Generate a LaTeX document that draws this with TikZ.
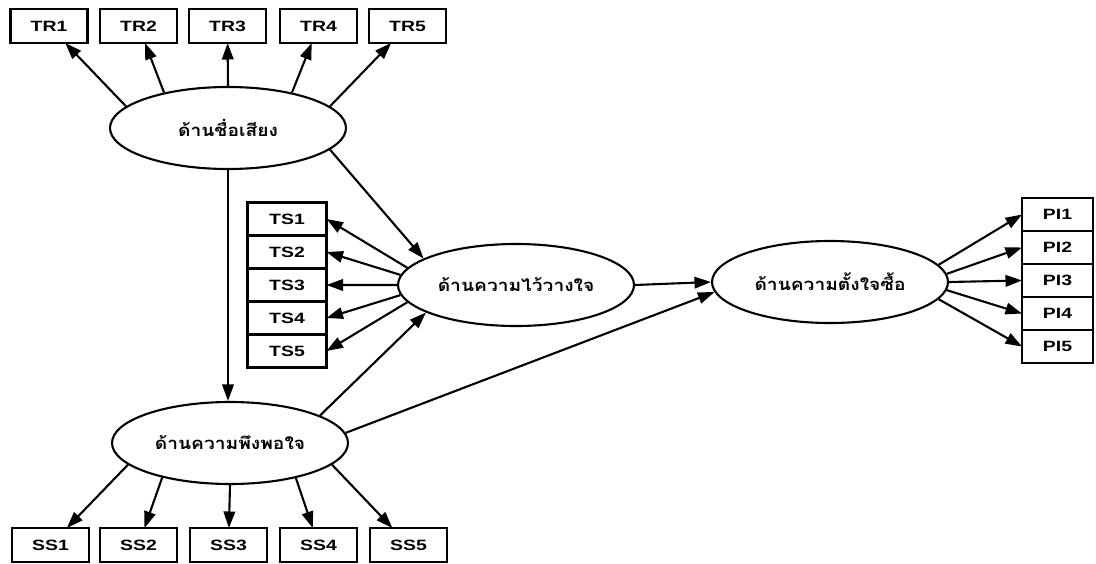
\documentclass[tikz,border=0pt]{standalone}
\usepackage{fontspec}
\setmainfont{Liberation Sans}
\newfontfamily\boxfont[FakeStretch=1.3]{Liberation Sans}
\newfontfamily\thaifont[Script=Thai,FakeStretch=1.15]{Loma}
\usetikzlibrary{arrows.meta, shapes.geometric, positioning}

\begin{document}
\begin{tikzpicture}[
		every node/.style={font=\boxfont\fontsize{8.5}{10}\selectfont\bfseries},
		item/.style={draw, line width=1.2pt, rectangle, minimum width=1.54cm, minimum height=0.68cm, inner sep=0pt, outer sep=0pt},
		factor/.style={draw, line width=1.2pt, ellipse, minimum width=4.72cm, minimum height=1.64cm, inner sep=0pt, font=\thaifont\fontsize{9.5}{11}\selectfont\bfseries},
		path/.style={-{Triangle[length=3.3mm, width=2.3mm]}, line width=1.2pt}
		]
		\useasboundingbox (0,0) rectangle (21.92,-11.26);
		
		% Latent factors
		\node[factor] (rep) at (4.56,-2.56) {ด้านชื่อเสียง};
		\node[factor] (trust) at (10.32,-5.70) {ด้านความไว้วางใจ};
		\node[factor] (purch) at (16.60,-5.64) {ด้านความตั้งใจซื้อ};
		\node[factor] (sat) at (4.60,-8.86) {ด้านความพึงพอใจ};
		
		% Top row: reputation items
		\node[item] (tr1) at (0.98,-0.52) {TR1};
		\node[item] (tr2) at (2.77,-0.52) {TR2};
		\node[item] (tr3) at (4.55,-0.52) {TR3};
		\node[item] (tr4) at (6.37,-0.52) {TR4};
		\node[item] (tr5) at (8.15,-0.52) {TR5};
		
		% Trust items (stacked)
		\node[item, minimum width=1.58cm, minimum height=0.66cm] (ts1) at (5.74,-4.38) {TS1};
		\node[item, minimum width=1.58cm, minimum height=0.66cm, below=0pt of ts1] (ts2) {TS2};
		\node[item, minimum width=1.58cm, minimum height=0.66cm, below=0pt of ts2] (ts3) {TS3};
		\node[item, minimum width=1.58cm, minimum height=0.66cm, below=0pt of ts3] (ts4) {TS4};
		\node[item, minimum width=1.58cm, minimum height=0.66cm, below=0pt of ts4] (ts5) {TS5};
		
		% Purchase intention items (stacked)
		\node[item, minimum width=1.42cm, minimum height=0.66cm] (pi1) at (21.15,-4.29) {PI1};
		\node[item, minimum width=1.42cm, minimum height=0.66cm, below=0pt of pi1] (pi2) {PI2};
		\node[item, minimum width=1.42cm, minimum height=0.66cm, below=0pt of pi2] (pi3) {PI3};
		\node[item, minimum width=1.42cm, minimum height=0.66cm, below=0pt of pi3] (pi4) {PI4};
		\node[item, minimum width=1.42cm, minimum height=0.66cm, below=0pt of pi4] (pi5) {PI5};
		
		% Bottom row: satisfaction items
		\node[item] (ss1) at (1.01,-10.90) {SS1};
		\node[item] (ss2) at (2.77,-10.90) {SS2};
		\node[item] (ss3) at (4.57,-10.90) {SS3};
		\node[item] (ss4) at (6.37,-10.90) {SS4};
		\node[item] (ss5) at (8.17,-10.90) {SS5};
		
		% Loadings
		\draw[path] (rep.168) -- (tr1);
		\draw[path] (rep.151) -- (tr2);
		\draw[path] (rep.north) -- (tr3);
		\draw[path] (rep.29) -- (tr4);
		\draw[path] (rep.12) -- (tr5);
		
		\draw[path] (trust.171) -- (ts1.east);
		\draw[path] (trust.175) -- (ts2.east);
		\draw[path] (trust.west) -- (ts3.east);
		\draw[path] (trust.185) -- (ts4.east);
		\draw[path] (trust.189) -- (ts5.east);
		
		\draw[path] (purch.9) -- (pi1.west);
		\draw[path] (purch.4) -- (pi2.west);
		\draw[path] (purch.east) -- (pi3.west);
		\draw[path] (purch.-4) -- (pi4.west);
		\draw[path] (purch.-9) -- (pi5.west);
		
		\draw[path] (sat.192) -- (ss1);
		\draw[path] (sat.207) -- (ss2);
		\draw[path] (sat.south) -- (ss3);
		\draw[path] (sat.-28) -- (ss4);
		\draw[path] (sat.-12) -- (ss5);
		
		% Structural paths
		\draw[path] (rep.south) -- (rep.south |- sat.north);
		\draw[path] (rep.-12) -- (trust.164);
		\draw[path] (sat.17) -- (trust.197);
		\draw[path] (sat.5) -- (purch.185);
		\draw[path] (trust.east) -- (purch.west);
		
	\end{tikzpicture}
\end{document}
